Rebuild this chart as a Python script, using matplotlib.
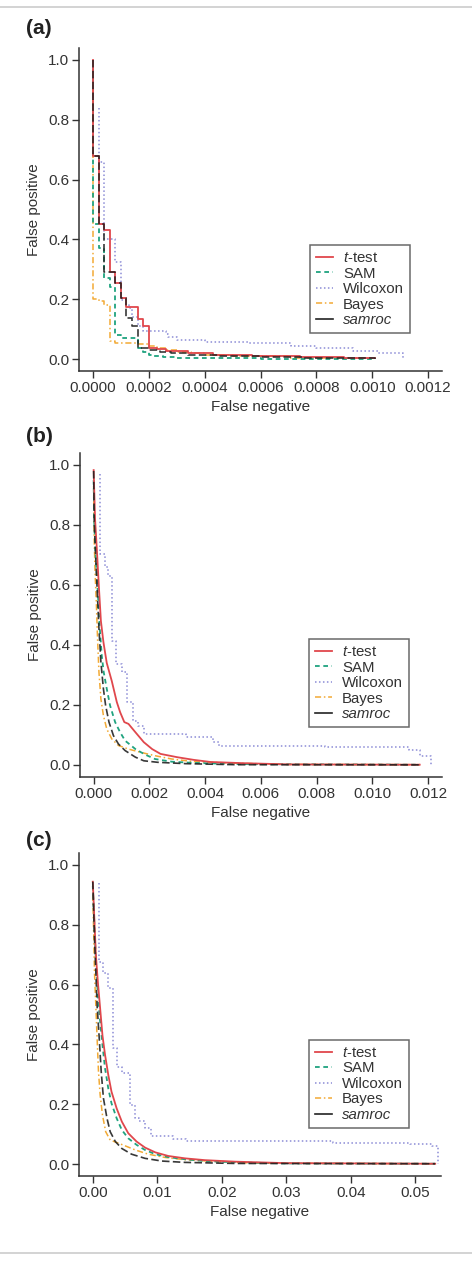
import numpy as np
import matplotlib
matplotlib.use('Agg')
import matplotlib.pyplot as plt
from matplotlib.lines import Line2D

plt.rcParams['font.family'] = ['Liberation Sans', 'DejaVu Sans']
plt.rcParams['mathtext.fontset'] = 'custom'
plt.rcParams['mathtext.rm'] = 'Liberation Sans'
plt.rcParams['mathtext.it'] = 'Liberation Sans:italic'

names = ['$\\it{t}$-test', 'SAM', 'Wilcoxon', 'Bayes', 'samroc']
panel_labels = ['(a)', '(b)', '(c)']

# ---- panel (a): step curves
a_ttest_x = [0, 0, 0.00002, 0.00004, 0.00006, 0.00008, 0.0001, 0.00012, 0.00016, 0.00018, 0.0002,
             0.00023, 0.00026, 0.00034, 0.00043, 0.00057, 0.00074, 0.0009, 0.00101]
a_ttest_y = [1.0, 0.68, 0.45, 0.43, 0.29, 0.253, 0.205, 0.173, 0.134, 0.11, 0.038,
             0.034, 0.028, 0.021, 0.015, 0.010, 0.006, 0.003, 0.002]
a_sam_x = [0, 0, 0.00002, 0.00004, 0.00006, 0.00008, 0.0001, 0.00016, 0.00018, 0.0002, 0.00022,
           0.00025, 0.0003, 0.0004, 0.0006, 0.001]
a_sam_y = [1.0, 0.45, 0.37, 0.27, 0.242, 0.08, 0.072, 0.038, 0.025, 0.015, 0.01,
           0.007, 0.005, 0.003, 0.001, 0.0]
a_wil_x = [0.00002, 0.00002, 0.00004, 0.00008, 0.0001, 0.00012, 0.00013, 0.00014, 0.00016, 0.00018,
           0.00026, 0.00027, 0.0003, 0.0004, 0.00056, 0.00071, 0.0008, 0.00093, 0.00102, 0.00111, 0.00111]
a_wil_y = [0.84, 0.66, 0.40, 0.326, 0.197, 0.185, 0.17, 0.14, 0.11, 0.095,
           0.085, 0.075, 0.064, 0.058, 0.052, 0.045, 0.036, 0.028, 0.02, 0.01, 0.0]
a_bayes_x = [0, 0, 0.00002, 0.00004, 0.00006, 0.00008, 0.00016, 0.0002, 0.00023, 0.00026, 0.0003,
             0.00035, 0.0004, 0.0005, 0.0007, 0.00085, 0.001]
a_bayes_y = [1.0, 0.2, 0.193, 0.18, 0.06, 0.055, 0.05, 0.042, 0.036, 0.03, 0.024,
             0.019, 0.014, 0.01, 0.005, 0.002, 0.0]
a_samroc_x = [0, 0, 0.00002, 0.00004, 0.00008, 0.0001, 0.00012, 0.00014, 0.00016, 0.0002, 0.00024,
              0.00028, 0.00034, 0.00045, 0.0006, 0.00075, 0.0009, 0.00101]
a_samroc_y = [1.0, 0.68, 0.45, 0.29, 0.253, 0.205, 0.138, 0.112, 0.036, 0.03, 0.025,
              0.02, 0.015, 0.01, 0.006, 0.004, 0.002, 0.001]

# ---- panel (b)
b_ttest_x = [0, 0.00005, 0.00012, 0.00019, 0.00026, 0.00035, 0.00047, 0.00065, 0.00083, 0.00095, 0.0011,
             0.00125, 0.0015, 0.0018, 0.0021, 0.0024, 0.003, 0.0036, 0.0042, 0.0054, 0.007, 0.0117]
b_ttest_y = [0.983, 0.82, 0.71, 0.59, 0.48, 0.41, 0.34, 0.28, 0.21, 0.176, 0.143,
             0.137, 0.109, 0.076, 0.053, 0.037, 0.026, 0.017, 0.010, 0.006, 0.002, 0.001]
b_sam_x = [0, 0.00002, 0.00007, 0.00014, 0.00022, 0.00029, 0.00036, 0.00047, 0.00059, 0.00077, 0.00095,
           0.00113, 0.0015, 0.00184, 0.0022, 0.0028, 0.0036, 0.0051, 0.0117]
b_sam_y = [0.95, 0.81, 0.70, 0.59, 0.455, 0.365, 0.31, 0.254, 0.198, 0.143, 0.109,
           0.081, 0.053, 0.035, 0.02, 0.011, 0.007, 0.003, 0.001]
b_wil_x = [0.00023, 0.00023, 0.0004, 0.0005, 0.00065, 0.0008, 0.001, 0.00118, 0.0014, 0.0016, 0.0018,
           0.0033, 0.0043, 0.0045, 0.0083, 0.0113, 0.0117, 0.0121]
b_wil_y = [0.97, 0.705, 0.66, 0.63, 0.415, 0.337, 0.31, 0.209, 0.148, 0.13, 0.104,
           0.095, 0.076, 0.065, 0.059, 0.05, 0.03, 0.0]
b_bayes_x = [0, 0.00002, 0.00005, 0.0001, 0.00014, 0.00019, 0.00026, 0.00035, 0.00047, 0.00065, 0.00089,
             0.00125, 0.0017, 0.0022, 0.0028, 0.0036, 0.0051, 0.007, 0.0117]
b_bayes_y = [0.93, 0.755, 0.644, 0.532, 0.42, 0.31, 0.22, 0.165, 0.12, 0.087, 0.065,
             0.053, 0.042, 0.031, 0.02, 0.011, 0.006, 0.002, 0.001]
b_samroc_x = [0, 0.00002, 0.00007, 0.00014, 0.00019, 0.00026, 0.00035, 0.00043, 0.00055, 0.00071, 0.00089,
              0.00113, 0.0015, 0.0018, 0.0023, 0.0033, 0.0051, 0.0117]
b_samroc_y = [0.98, 0.81, 0.70, 0.555, 0.455, 0.343, 0.254, 0.198, 0.143, 0.098, 0.07,
              0.048, 0.026, 0.014, 0.009, 0.0045, 0.001, 0.0005]

# ---- panel (c)
c_ttest_x = [0, 0.00026, 0.00047, 0.00078, 0.00114, 0.0015, 0.0019, 0.0024, 0.0029, 0.0037, 0.0045,
             0.0055, 0.0068, 0.0081, 0.0097, 0.0117, 0.0143, 0.0174, 0.022, 0.03, 0.0531]
c_ttest_y = [0.944, 0.81, 0.70, 0.61, 0.52, 0.43, 0.365, 0.298, 0.242, 0.186, 0.142,
             0.103, 0.075, 0.055, 0.039, 0.027, 0.019, 0.013, 0.008, 0.003, 0.001]
c_sam_x = [0, 0.00026, 0.00052, 0.00078, 0.00114, 0.0015, 0.0019, 0.0024, 0.0029, 0.0037, 0.0045,
           0.0055, 0.0068, 0.0081, 0.0097, 0.0117, 0.0143, 0.0174, 0.022, 0.03, 0.0531]
c_sam_y = [0.93, 0.79, 0.665, 0.565, 0.476, 0.398, 0.32, 0.253, 0.203, 0.153, 0.114,
           0.086, 0.064, 0.047, 0.033, 0.023, 0.016, 0.01, 0.006, 0.002, 0.001]
c_wil_x = [0.00103, 0.00103, 0.00165, 0.0024, 0.0031, 0.0037, 0.0045, 0.0058, 0.0066, 0.0071, 0.0081,
           0.0091, 0.0125, 0.0145, 0.0373, 0.0492, 0.0526, 0.0536]
c_wil_y = [0.94, 0.677, 0.638, 0.588, 0.388, 0.326, 0.304, 0.198, 0.155, 0.143, 0.12,
           0.095, 0.085, 0.076, 0.07, 0.066, 0.06, 0.0]
c_bayes_x = [0, 0.00016, 0.00026, 0.00047, 0.00067, 0.00088, 0.00114, 0.0015, 0.002, 0.0027, 0.0037,
             0.005, 0.0066, 0.0086, 0.0112, 0.0143, 0.0195, 0.025, 0.0531]
c_bayes_y = [0.9, 0.755, 0.643, 0.53, 0.42, 0.31, 0.231, 0.164, 0.108, 0.08, 0.072,
             0.061, 0.047, 0.033, 0.022, 0.0145, 0.008, 0.003, 0.001]
c_samroc_x = [0, 0.00026, 0.00047, 0.00067, 0.001, 0.0013, 0.00165, 0.0022, 0.0027, 0.0035, 0.0045,
              0.006, 0.0081, 0.0107, 0.0143, 0.022, 0.0531]
c_samroc_y = [0.944, 0.755, 0.643, 0.53, 0.42, 0.31, 0.22, 0.153, 0.108, 0.075, 0.052,
              0.033, 0.019, 0.01, 0.0055, 0.002, 0.001]

x_ticks = [np.arange(0, 0.00121, 0.0002), np.arange(0, 0.0121, 0.002), np.arange(0, 0.051, 0.01)]
x_fmt = ['%.4f', '%.3f', '%.2f']
x_lims = [(-0.00005, 0.00125), (-0.00049, 0.0125), (-0.00214, 0.054)]

red = '#e0474c'
green = '#1fa37f'
purple = '#8c8cd6'
orange = '#f2aa35'
black = '#222222'
txt = '#333333'

fig = plt.figure(figsize=(4.72, 12.67), dpi=100)

# gray rules at top and bottom
fig.add_artist(Line2D([0, 1], [1 - 7 / 1267, 1 - 7 / 1267], color='#cccccc', lw=1.2))
fig.add_artist(Line2D([0, 1], [1 - 1253 / 1267, 1 - 1253 / 1267], color='#cccccc', lw=1.2))

axes_px = [(79, 48, 442, 371), (80, 453, 442, 777), (79, 853, 441, 1176)]
label_y = [28, 437, 840]
legend_px = [(310, 245), (309, 639), (309, 1040)]

panels = [
    (a_ttest_x, a_ttest_y, a_sam_x, a_sam_y, a_wil_x, a_wil_y, a_bayes_x, a_bayes_y, a_samroc_x, a_samroc_y),
    (b_ttest_x, b_ttest_y, b_sam_x, b_sam_y, b_wil_x, b_wil_y, b_bayes_x, b_bayes_y, b_samroc_x, b_samroc_y),
    (c_ttest_x, c_ttest_y, c_sam_x, c_sam_y, c_wil_x, c_wil_y, c_bayes_x, c_bayes_y, c_samroc_x, c_samroc_y),
]

for i, p in enumerate(panels):
    l, t, r, b = axes_px[i]
    ax = fig.add_axes([l / 472, 1 - b / 1267, (r - l) / 472, (b - t) / 1267])
    tx, ty, sx, sy, wx, wy, bx, by, rx, ry = p
    ds = 'steps-post' if i == 0 else 'default'
    ax.plot(wx, wy, color=purple, lw=1.1, dashes=(1, 1.6), drawstyle='steps-post')
    ax.plot(bx, by, color=orange, lw=1.1, dashes=(4, 1.8, 1, 1.8), drawstyle=ds)
    ax.plot(sx, sy, color=green, lw=1.3, dashes=(2.6, 2), drawstyle=ds)
    ax.plot(tx, ty, color=red, lw=1.3, drawstyle=ds)
    ax.plot(rx, ry, color=black, lw=1.2, dashes=(4.5, 2), drawstyle=ds, alpha=0.9)

    ax.set_xlim(x_lims[i])
    ax.set_ylim(-0.04, 1.04)
    ax.set_xticks(x_ticks[i])
    ax.set_xticklabels([x_fmt[i] % v for v in x_ticks[i]])
    ax.set_yticks(np.arange(0, 1.01, 0.2))
    ax.set_yticklabels(['%.1f' % v for v in np.arange(0, 1.01, 0.2)])
    for s in ['top', 'right']:
        ax.spines[s].set_visible(False)
    for s in ['left', 'bottom']:
        ax.spines[s].set_color(txt)
        ax.spines[s].set_linewidth(1.1)
    ax.tick_params(direction='out', length=5, width=1.0, color=txt, labelcolor=txt,
                   labelsize=11, pad=2)
    ax.set_xlabel('False negative', fontsize=11, color=txt, labelpad=4)
    ax.set_ylabel('False positive', fontsize=11, color=txt, labelpad=5)

    handles = [
        Line2D([], [], color=red, lw=1.3),
        Line2D([], [], color=green, lw=1.3, dashes=(2.6, 2)),
        Line2D([], [], color=purple, lw=1.1, dashes=(1, 1.6)),
        Line2D([], [], color=orange, lw=1.1, dashes=(4, 1.8, 1, 1.8)),
        Line2D([], [], color=black, lw=1.2),
    ]
    lx, ly = legend_px[i]
    leg = ax.legend(handles, names, loc='upper left', bbox_to_anchor=(lx / 472, 1 - ly / 1267),
                    bbox_transform=fig.transFigure, borderaxespad=0, fontsize=10.8,
                    fancybox=False, handlelength=1.1, handletextpad=0.7, labelspacing=0.1,
                    borderpad=0.4, frameon=True)
    leg.get_frame().set_edgecolor('#444444')
    leg.get_frame().set_linewidth(1.1)
    for tt in leg.get_texts():
        tt.set_color(txt)
    leg.get_texts()[4].set_style('italic')

    fig.text(26 / 472, 1 - label_y[i] / 1267, panel_labels[i], fontsize=15,
             fontweight='bold', color='#222222', va='center', ha='left')

fig.savefig('out.png', dpi=100)
